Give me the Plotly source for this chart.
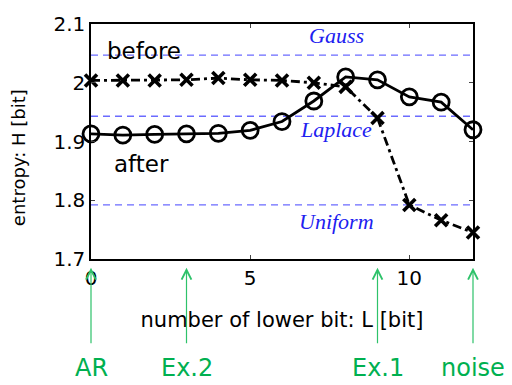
import plotly.graph_objects as go

# number of lower bits L
L = list(range(13))
# entropy before / after processing
h_before = [2.004, 2.004, 2.004, 2.005, 2.008, 2.005, 2.004, 2.000, 1.993, 1.940, 1.792, 1.766, 1.745]
h_after = [1.913, 1.911, 1.912, 1.913, 1.914, 1.919, 1.934, 1.969, 2.010, 2.005, 1.976, 1.967, 1.920]

# reference entropies of unit-variance distributions
ref_names = ["Gauss", "Laplace", "Uniform"]
ref_values = [2.047, 1.943, 1.792]
ref_label_y = [2.080, 1.921, 1.764]

# marked settings below the axis
mark_names = ["AR", "Ex.2", "Ex.1", "noise"]
mark_L = [0, 3, 9, 12]

y_ticks = [1.7, 1.8, 1.9, 2.0, 2.1]
y_ticktext = ["1.7", "1.8", "1.9", "2", "2.1"]
x_ticks = [0, 5, 10]

FONT = "DejaVu Sans"

fig = go.Figure()

for v in ref_values:
    fig.add_trace(go.Scatter(
        x=[0, 12], y=[v, v], mode="lines",
        line=dict(color="#6b6bff", width=1.3, dash="7px,5px"),
        showlegend=False, hoverinfo="skip"))

fig.add_trace(go.Scatter(
    x=L, y=h_before, mode="lines+markers", name="before",
    line=dict(color="black", width=2.8, dash="9px,4px,3px,4px"),
    marker=dict(symbol="x-thin-open", size=12, line=dict(color="black", width=3.6)),
    showlegend=False, cliponaxis=False))

fig.add_trace(go.Scatter(
    x=L, y=h_after, mode="lines+markers", name="after",
    line=dict(color="black", width=2.8),
    marker=dict(symbol="circle-open", size=16, line=dict(color="black", width=2.8)),
    showlegend=False, cliponaxis=False))

annotations = []
for name, y in zip(ref_names, ref_label_y):
    annotations.append(dict(
        x=7.7, y=y, xref="x", yref="y", text="<i>" + name + "</i>", showarrow=False,
        font=dict(family="Liberation Serif", size=22, color="#2020f0")))

annotations.append(dict(x=1.67, y=2.054, xref="x", yref="y", text="before",
                        showarrow=False, font=dict(family=FONT, size=23, color="black")))
annotations.append(dict(x=1.6, y=1.862, xref="x", yref="y", text="after",
                        showarrow=False, font=dict(family=FONT, size=23, color="black")))

# vertical axis title
annotations.append(dict(x=-0.188, y=0.43, xref="paper", yref="paper",
                        text="entropy: H [bit]", textangle=-90, showarrow=False,
                        xanchor="center", yanchor="middle",
                        font=dict(family=FONT, size=18, color="black")))

for name, xv in zip(mark_names, mark_L):
    annotations.append(dict(
        x=xv, y=-0.037, xref="x", yref="paper", text="",
        showarrow=True, ax=0, ay=77, axref="pixel", ayref="pixel",
        arrowhead=5, arrowsize=1.6, arrowwidth=1.2, arrowcolor="#2ec26a", standoff=0))
    annotations.append(dict(
        x=xv, y=-0.465, xref="x", yref="paper", text=name, showarrow=False,
        yanchor="middle", font=dict(family=FONT, size=24, color="#00b050")))

fig.update_layout(
    width=512, height=385,
    margin=dict(l=91, r=39, t=15, b=126),
    paper_bgcolor="white", plot_bgcolor="white",
    font=dict(family=FONT, color="black"),
    annotations=annotations,
    xaxis=dict(
        range=[-0.0001, 12.0001], tickvals=x_ticks, ticks="inside", ticklen=4, tickwidth=1,
        showline=True, linecolor="black", linewidth=1.5, mirror="ticks",
        showgrid=False, zeroline=False,
        tickfont=dict(family=FONT, size=20, color="black"),
        title=dict(text="number of lower bit: L [bit]", standoff=24,
                   font=dict(family=FONT, size=21, color="black"))),
    yaxis=dict(
        range=[1.6999, 2.1001], tickvals=y_ticks, ticktext=y_ticktext,
        ticks="inside", ticklen=4, tickwidth=1,
        showline=True, linecolor="black", linewidth=1.5, mirror="ticks",
        showgrid=False, zeroline=False,
        tickfont=dict(family=FONT, size=20, color="black")),
)

fig.write_html("out.html")
